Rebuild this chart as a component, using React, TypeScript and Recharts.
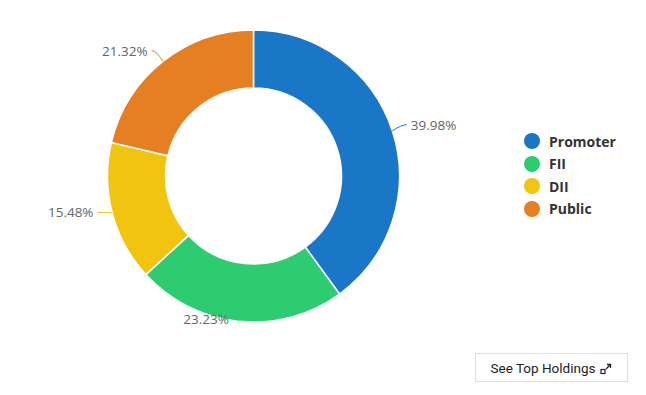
import { Pie, PieChart, Cell } from "recharts";

const holders = ["Promoter", "FII", "DII", "Public"];
const shares = [39.98, 23.23, 15.48, 21.32];
const colors = ["#1a76c6", "#2ecc71", "#f1c40f", "#e67e22"];

const data = holders.map((name, i) => ({ name, value: shares[i] }));

const RAD = Math.PI / 180;

function SliceLabel(props: any) {
  const { cx, cy, midAngle, outerRadius, index, value } = props;
  const cos = Math.cos(-midAngle * RAD);
  const sin = Math.sin(-midAngle * RAD);
  const sx = cx + outerRadius * cos;
  const sy = cy + outerRadius * sin;
  const ex = cx + (outerRadius + 10) * cos;
  let ey = cy + (outerRadius + 10) * sin;
  ey = Math.max(cy - outerRadius, Math.min(cy + outerRadius, ey)) - 3;
  const right = cos >= 0;
  const hx = ex + (right ? 5 : -5);
  return (
    <g>
      <path
        d={`M${sx},${sy} Q${ex},${ey} ${hx},${ey}`}
        stroke={colors[index]}
        strokeWidth={1}
        fill="none"
      />
      <text
        x={ex + (right ? 9 : -9)}
        y={ey}
        textAnchor={right ? "start" : "end"}
        dominantBaseline="central"
        fill="#666"
        fontSize={13.5}
        fontFamily="'Open Sans', sans-serif"
      >
        {`${value.toFixed(2)}%`}
      </text>
    </g>
  );
}

function LegendList() {
  return (
    <div
      style={{
        position: "absolute",
        left: 524,
        top: 130,
        fontFamily: "'Open Sans', sans-serif",
      }}
    >
      {holders.map((h, i) => (
        <div key={h} style={{ display: "flex", alignItems: "center", height: 22.5 }}>
          <span
            style={{
              width: 16,
              height: 16,
              borderRadius: "50%",
              background: colors[i],
              display: "inline-block",
              marginRight: 9,
            }}
          />
          <span style={{ fontSize: 14, fontWeight: 700, color: "#333" }}>{h}</span>
        </div>
      ))}
    </div>
  );
}

export default function App() {
  return (
    <div style={{ position: "relative", width: 646, height: 395, background: "#fff" }}>
      <style>{`body{margin:0}`}</style>
      <PieChart width={646} height={395} margin={{ top: 0, right: 0, bottom: 0, left: 0 }}>
        <Pie
          data={data}
          dataKey="value"
          nameKey="name"
          cx={253.5}
          cy={176}
          outerRadius={146}
          innerRadius={88}
          startAngle={90}
          endAngle={-270}
          stroke="#fff"
          strokeWidth={1.5}
          label={SliceLabel}
          labelLine={false}
          isAnimationActive={false}
        >
          {data.map((d, i) => (
            <Cell key={d.name} fill={colors[i]} />
          ))}
        </Pie>
      </PieChart>
      <LegendList />
      <div
        style={{
          position: "absolute",
          left: 475,
          top: 353,
          width: 153,
          height: 29,
          border: "1px solid #ddd",
          boxSizing: "border-box",
          display: "flex",
          alignItems: "center",
          justifyContent: "center",
          fontFamily: "Roboto, sans-serif",
          fontSize: 13.5,
          color: "#222",
          background: "#fff",
        }}
      >
        See Top Holdings
        <svg width="12" height="12" viewBox="0 0 12 12" style={{ marginLeft: 5, marginTop: 2 }}>
          <rect x="1" y="6.5" width="4" height="4" fill="none" stroke="#222" strokeWidth="1.2" />
          <path d="M6 6 L10.5 1.5 M7 1.5 H10.5 V5" fill="none" stroke="#222" strokeWidth="1.3" />
        </svg>
      </div>
    </div>
  );
}
